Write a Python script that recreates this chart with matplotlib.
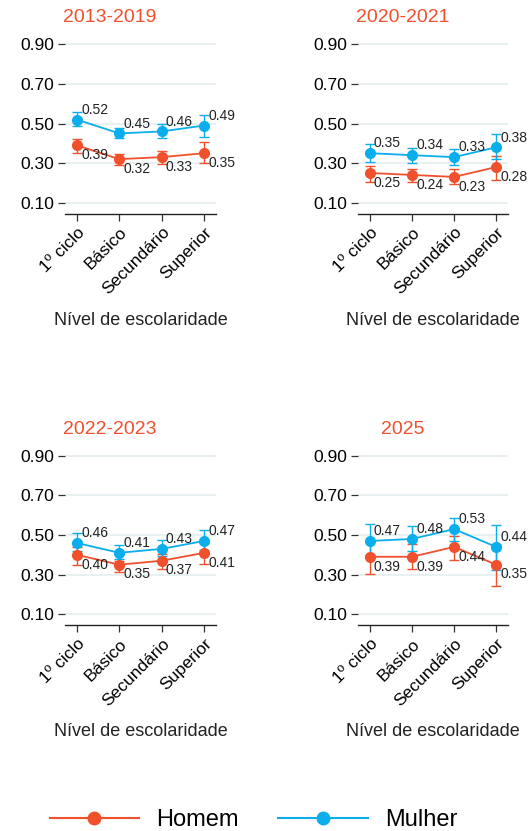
import numpy as np
import matplotlib
matplotlib.use("Agg")
import matplotlib.pyplot as plt
from matplotlib.lines import Line2D

plt.rcParams['font.family'] = ['Liberation Sans', 'DejaVu Sans']

# categories and panels
levels = ["1º ciclo", "Básico", "Secundário", "Superior"]
periods = ["2013-2019", "2020-2021", "2022-2023", "2025"]

# point estimates per period (Homem / Mulher)
homem = {
    "2013-2019": [0.39, 0.32, 0.33, 0.35],
    "2020-2021": [0.25, 0.24, 0.23, 0.28],
    "2022-2023": [0.40, 0.35, 0.37, 0.41],
    "2025": [0.39, 0.39, 0.44, 0.35],
}
mulher = {
    "2013-2019": [0.52, 0.45, 0.46, 0.49],
    "2020-2021": [0.35, 0.34, 0.33, 0.38],
    "2022-2023": [0.46, 0.41, 0.43, 0.47],
    "2025": [0.47, 0.48, 0.53, 0.44],
}

# confidence intervals (lower, upper)
homem_lo = {
    "2013-2019": [0.353, 0.289, 0.295, 0.300],
    "2020-2021": [0.206, 0.203, 0.193, 0.215],
    "2022-2023": [0.349, 0.312, 0.329, 0.354],
    "2025": [0.303, 0.329, 0.376, 0.242],
}
homem_hi = {
    "2013-2019": [0.420, 0.344, 0.363, 0.407],
    "2020-2021": [0.287, 0.272, 0.269, 0.336],
    "2022-2023": [0.440, 0.371, 0.405, 0.460],
    "2025": [0.470, 0.453, 0.497, 0.453],
}
mulher_lo = {
    "2013-2019": [0.487, 0.427, 0.428, 0.430],
    "2020-2021": [0.304, 0.302, 0.292, 0.319],
    "2022-2023": [0.420, 0.378, 0.392, 0.425],
    "2025": [0.400, 0.417, 0.470, 0.324],
}
mulher_hi = {
    "2013-2019": [0.557, 0.476, 0.497, 0.543],
    "2020-2021": [0.395, 0.376, 0.371, 0.447],
    "2022-2023": [0.510, 0.451, 0.473, 0.527],
    "2025": [0.558, 0.544, 0.587, 0.549],
}

yticks = [0.10, 0.30, 0.50, 0.70, 0.90]

# colours
c_homem = '#f0502c'
c_mulher = '#0aaeec'
grid_color = '#e8f0f2'

W, H = 531, 831
fig = plt.figure(figsize=(W / 100, H / 100), dpi=100)

# axes positions in pixels: (left, right, bottom)
panel_px = [(65, 216, 213.5), (358, 508, 213.5), (65, 216, 625), (358, 508, 625)]
title_px = [(110, 18), (403, 18), (110, 430), (403, 430)]
xlabel_y = [320, 320, 732, 732]
ax_h = 175 / H


def draw_series(ax, vals, lo, hi, color, above):
    x = np.arange(len(vals))
    vals = np.array(vals)
    yerr = [vals - np.array(lo), np.array(hi) - vals]
    ax.errorbar(x, vals, yerr=yerr, fmt='none', ecolor=color, elinewidth=1.0,
                capsize=3.8, capthick=1.0, zorder=3)
    ax.plot(x, vals, color=color, linewidth=1.3, marker='o', markersize=7,
            zorder=4)
    for xi, v in zip(x, vals):
        dy = 7 if above else -7
        ax.annotate(f"{v:.2f}", (xi, v), xytext=(3, dy), textcoords='offset points',
                    ha='left', va='center', fontsize=10, color='#222222', zorder=5)


for i, p in enumerate(periods):
    l, r, b = panel_px[i]
    ax = fig.add_axes([l / W, 1 - b / H, (r - l) / W, ax_h])

    # grid lines at y ticks
    for yt in yticks:
        ax.axhline(yt, color=grid_color, linewidth=1.5, zorder=0)

    draw_series(ax, homem[p], homem_lo[p], homem_hi[p], c_homem, above=False)
    draw_series(ax, mulher[p], mulher_lo[p], mulher_hi[p], c_mulher, above=True)

    ax.set_xlim(-0.28, 3.28)
    ax.set_ylim(0.045, 0.93)
    ax.set_yticks(yticks)
    ax.set_yticklabels([f"{t:.2f}" for t in yticks], fontsize=12.5)
    ax.set_xticks(range(len(levels)))
    ax.set_xticklabels(levels, rotation=45, ha='right', rotation_mode='anchor',
                       fontsize=12.5)

    for s in ['top', 'right', 'left']:
        ax.spines[s].set_visible(False)
    ax.spines['bottom'].set_color('#222222')
    ax.spines['bottom'].set_linewidth(1.0)
    ax.tick_params(axis='y', length=5, width=0.9, color='#333333', pad=3)
    ax.tick_params(axis='x', length=5, width=0.9, color='#333333', pad=3)

    tx, ty = title_px[i]
    fig.text(tx / W, 1 - ty / H, p, color=c_homem, fontsize=14,
             ha='center', va='center')
    fig.text(((l + r) / 2) / W, 1 - xlabel_y[i] / H, "Nível de escolaridade",
             fontsize=13, ha='center', va='center', color='#222222')

# legend
handles = [
    Line2D([0], [0], color=c_homem, linewidth=1.5, marker='o', markersize=9),
    Line2D([0], [0], color=c_mulher, linewidth=1.5, marker='o', markersize=9),
]
fig.legend(handles, ["Homem", "Mulher"], loc='center',
           bbox_to_anchor=(0.477, 1 - 820 / H), ncol=2, frameon=False,
           fontsize=17, handlelength=3.8, handletextpad=0.7, columnspacing=1.7)

fig.savefig("out.png", dpi=100)
